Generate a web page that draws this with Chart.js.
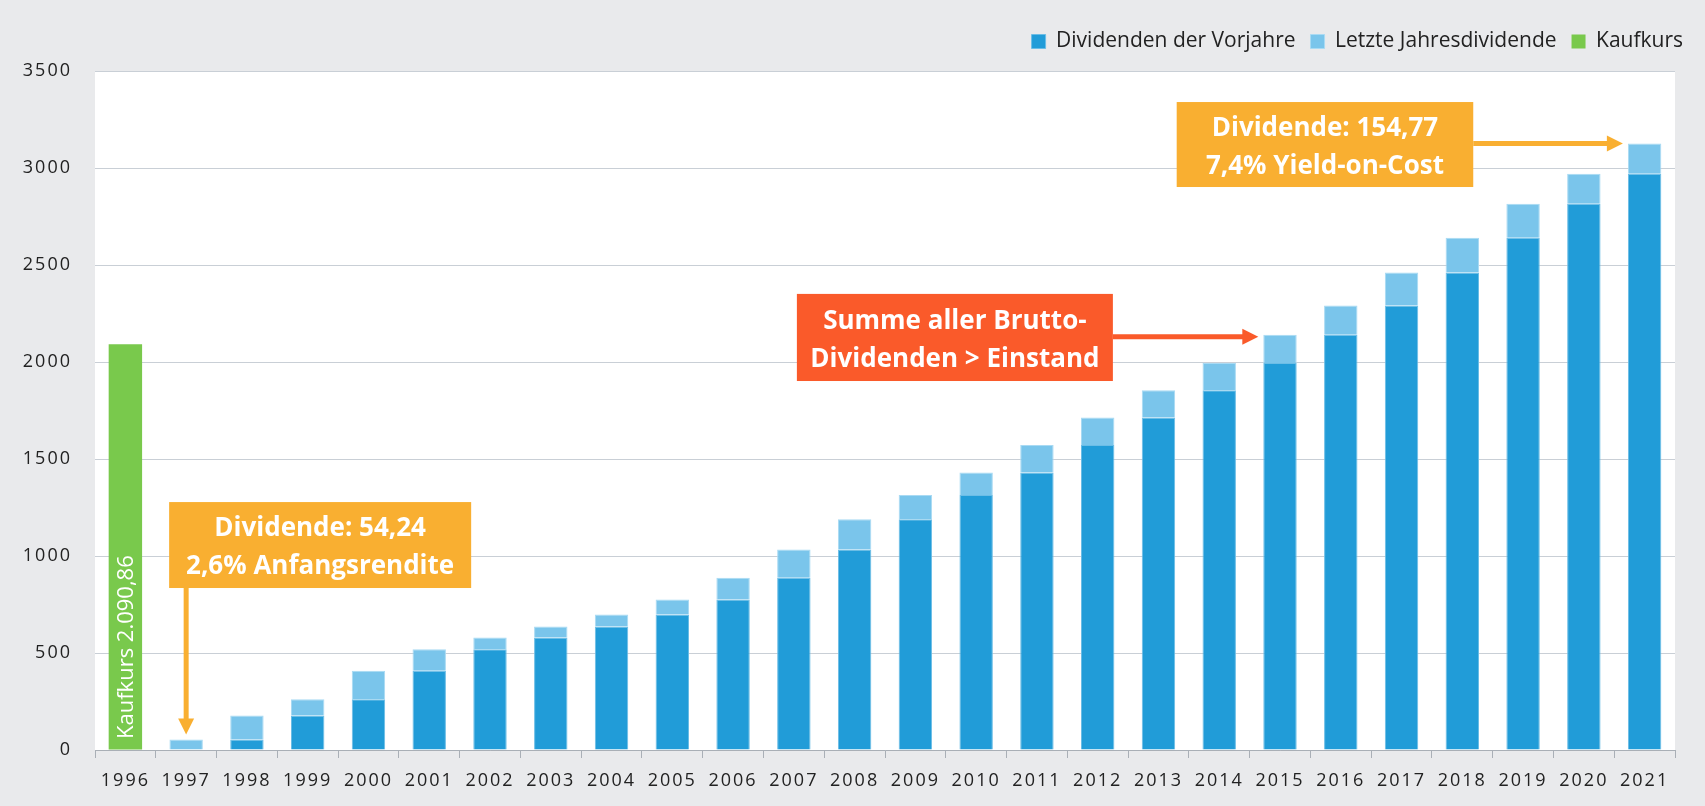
<!DOCTYPE html>
<html>
<head>
<meta charset="utf-8">
<script src="https://cdn.jsdelivr.net/npm/chart.js@4.4.1/dist/chart.umd.min.js"></script>
<style>
  html, body { margin: 0; padding: 0; background: #E9EAEC; }
  #wrap { width: 1705px; height: 806px; position: relative; }
</style>
</head>
<body>
<div id="wrap"><canvas id="chart"></canvas></div>
<script>
/* ── DATA ── */
const years = ["1996","1997","1998","1999","2000","2001","2002","2003","2004","2005","2006","2007","2008",
               "2009","2010","2011","2012","2013","2014","2015","2016","2017","2018","2019","2020","2021"];
const kaufkurs = [2090.86, null, null, null, null, null, null, null, null, null, null, null, null,
                  null, null, null, null, null, null, null, null, null, null, null, null, null];
// Summe der Dividenden der Vorjahre (dunkelblau)
const vorjahre = [null, 0, 54.24, 178, 262, 408, 519, 580, 637, 699, 776, 888, 1034,
                  1190, 1315, 1430, 1572, 1714, 1854, 1995, 2140, 2291, 2461, 2640, 2816, 2971];
// Letzte Jahresdividende (hellblau)
const letzte = [null, 54.24, 123.76, 84, 146, 111, 61, 57, 62, 77, 112, 146, 156,
                125, 115, 142, 142, 140, 141, 145, 151, 170, 179, 176, 155, 154.77];
const yMax = 3500, yStep = 500;

const C = { dark: "#219CD8", light: "#7AC5EB", green: "#79C94C", orange: "#F9AF31", red: "#FA5A2A",
            grid: "#C9CFD6", text: "#222222" };

/* ── CALLOUTS ── (box in category index / value units) */
const callouts = [
  { lines: ["Dividende: 54,24", "2,6% Anfangsrendite"], color: C.orange,
    box: { x0: 0.72, x1: 5.69, yTop: 1278, yBot: 835 }, arrow: { type: "down", idx: 1 } },
  { lines: ["Summe aller Brutto-", "Dividenden > Einstand"], color: C.red,
    box: { x0: 11.05, x1: 16.25, yTop: 2351, yBot: 1902 }, arrow: { type: "right", idx: 19, dy: 2 } },
  { lines: ["Dividende: 154,77", "7,4% Yield-on-Cost"], color: C.orange,
    box: { x0: 17.3, x1: 22.18, yTop: 3340, yBot: 2902 }, arrow: { type: "right", idx: 25, dy: 0 } }
];

function arrowHead(ctx, x, y, dir, color) {
  ctx.fillStyle = color;
  ctx.beginPath();
  if (dir === "down") { ctx.moveTo(x - 8, y - 16); ctx.lineTo(x + 8, y - 16); ctx.lineTo(x, y); }
  else { ctx.moveTo(x - 16, y - 8); ctx.lineTo(x - 16, y + 8); ctx.lineTo(x, y); }
  ctx.closePath(); ctx.fill();
}

/* ── PLUGINS ── */
const plotBg = {
  id: "plotBg",
  beforeDraw(chart) {
    const { ctx, chartArea: a } = chart;
    ctx.save(); ctx.fillStyle = "#fff";
    ctx.fillRect(a.left, a.top, a.right - a.left, a.bottom - a.top);
    ctx.restore();
    ctx.letterSpacing = "2px";   // spaced axis digits
  },
  afterDatasetsDraw(chart) { chart.ctx.letterSpacing = "0px"; }
};

const legendTweak = {
  id: "legendTweak",
  beforeInit(chart) {
    const lg = chart.legend;
    const fit = lg.fit, draw = lg.draw;
    lg.fit = function () { fit.call(this); this.height = 55; };
    lg.draw = function () {
      const ctx = this.ctx, ls = ctx.letterSpacing;
      ctx.letterSpacing = "0px"; draw.call(this); ctx.letterSpacing = ls;
    };
  },
  afterLayout(chart) { chart.legend.left += 23; chart.legend.right += 23; }
};

const annot = {
  id: "annot",
  afterDatasetsDraw(chart) {
    const { ctx, chartArea: a, scales: { x, y } } = chart;
    ctx.save();
    ctx.letterSpacing = "0px";
    // Kaufkurs label in the green bar
    const g = chart.getDatasetMeta(2).data[0];
    ctx.save();
    ctx.translate(g.x, a.bottom - 11);
    ctx.rotate(-Math.PI / 2);
    ctx.fillStyle = "#fff"; ctx.font = "22px 'Open Sans'";
    ctx.textAlign = "left"; ctx.textBaseline = "middle";
    ctx.fillText("Kaufkurs 2.090,86", 0, 1);
    ctx.restore();

    callouts.forEach(c => {
      const L = x.getPixelForValue(c.box.x0), R = x.getPixelForValue(c.box.x1);
      const T = y.getPixelForValue(c.box.yTop), B = y.getPixelForValue(c.box.yBot);
      ctx.fillStyle = c.color; ctx.fillRect(L, T, R - L, B - T);
      ctx.fillStyle = "#fff"; ctx.font = "bold 26px 'Open Sans'";
      ctx.textAlign = "center"; ctx.textBaseline = "middle";
      const cy = (T + B) / 2;
      ctx.fillText(c.lines[0], (L + R) / 2, cy - 16);
      ctx.fillText(c.lines[1], (L + R) / 2, cy + 22);

      ctx.strokeStyle = c.color; ctx.lineWidth = 5;
      const total = (vorjahre[c.arrow.idx] || 0) + (letzte[c.arrow.idx] || 0);
      if (c.arrow.type === "down") {
        const ax = x.getPixelForValue(c.arrow.idx);
        const tip = y.getPixelForValue(total) - 5;
        ctx.beginPath(); ctx.moveTo(ax, B); ctx.lineTo(ax, tip - 14); ctx.stroke();
        arrowHead(ctx, ax, tip, "down", c.color);
      } else {
        const bar = chart.getDatasetMeta(1).data[c.arrow.idx];
        const tipX = bar.x - bar.width / 2 - 5;
        const ay = y.getPixelForValue(total) + c.arrow.dy;
        ctx.beginPath(); ctx.moveTo(R, ay); ctx.lineTo(tipX - 14, ay); ctx.stroke();
        arrowHead(ctx, tipX, ay, "right", c.color);
      }
    });
    ctx.restore();
  }
};

new Chart(document.getElementById("chart"), {
  type: "bar",
  data: {
    labels: years,
    datasets: [
      { label: "Dividenden der Vorjahre", data: vorjahre, backgroundColor: C.dark, borderColor: "#6BBDE6", borderWidth: 1 },
      { label: "Letzte Jahresdividende", data: letzte, backgroundColor: C.light, borderColor: "#A9DAF3", borderWidth: 1 },
      { label: "Kaufkurs", data: kaufkurs, backgroundColor: C.green, borderWidth: 0 }
    ]
  },
  options: {
    responsive: true, maintainAspectRatio: false, animation: false,
    barPercentage: 0.55, categoryPercentage: 1,
    layout: { padding: { top: 16, right: 30, bottom: 0, left: 0 } },
    plugins: {
      tooltip: { enabled: false },
      legend: {
        position: "top", align: "end",
        labels: { boxWidth: 14, boxHeight: 14, padding: 15, color: C.text,
                  font: { family: "'Open Sans'", size: 21 } }
      }
    },
    scales: {
      x: {
        stacked: true,
        grid: { offset: true, drawOnChartArea: false, drawTicks: true, tickLength: 8, color: "#A9AFB6" },
        border: { display: true, color: "#A9AFB6", width: 1 },
        ticks: { color: C.text, padding: 12, maxRotation: 0, font: { family: "'Open Sans'", size: 18 } },
        afterFit(s) { s.height = 56; }
      },
      y: {
        stacked: true, min: 0, max: yMax,
        grid: { color: C.grid, drawTicks: false },
        border: { display: false },
        ticks: { stepSize: yStep, color: C.text, padding: 23, font: { family: "'Open Sans'", size: 18 },
                 callback: v => String(v) },
        afterFit(s) { s.width = 95; }
      }
    }
  },
  plugins: [plotBg, legendTweak, annot]
});
</script>
</body>
</html>
